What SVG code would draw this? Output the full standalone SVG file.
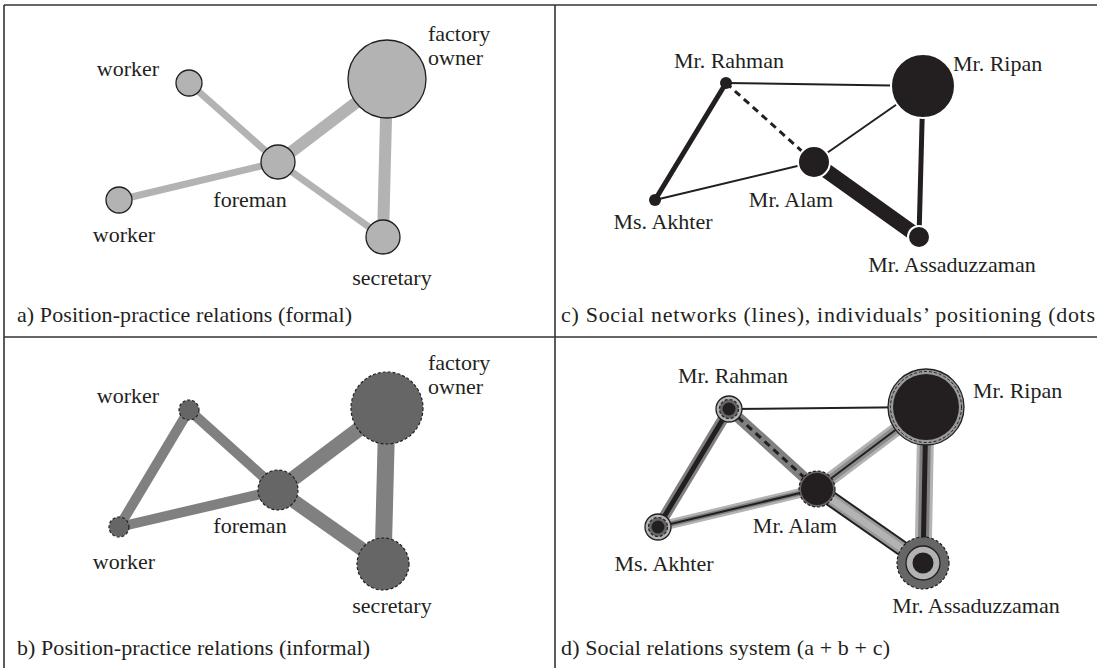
<svg xmlns="http://www.w3.org/2000/svg" width="1097" height="668" viewBox="0 0 1097 668">
  <defs>
    <style>
      .lbl { font-family: 'Liberation Serif', 'Times New Roman', 'DejaVu Serif', serif; font-size: 22px; fill: #231f20; }
      .mid { text-anchor: middle; }
      .frame { stroke: #333; stroke-width: 1.6; fill: none; }
      .e { fill: none; stroke-linecap: butt; }
      .fa { stroke: #b3b3b3; }
      .fb { stroke: #808080; }
      .fc { stroke: #231f20; }
      .na { fill: #b3b3b3; stroke: #231f20; stroke-width: 1.3; }
      .nb { fill: #666666; stroke: #231f20; stroke-width: 1.2; stroke-dasharray: 3 2; }
      .nc { fill: #231f20; stroke: #ffffff; stroke-width: 2; }
      .blk { fill: #231f20; }
      .dash { stroke-dasharray: 7 5; }
    </style>
  </defs>

  <rect width="1097" height="668" fill="#ffffff"/>

  <!-- panel frame -->
  <g id="frame">
    <line class="frame" x1="4" y1="5" x2="1097" y2="5"/>
    <line class="frame" x1="4" y1="5" x2="4" y2="668"/>
    <line class="frame" x1="555" y1="5" x2="555" y2="668"/>
    <line class="frame" x1="4" y1="337" x2="1097" y2="337"/>
  </g>

  <!-- connectors -->
  <g id="connectors">
    <!-- a) formal -->
    <line class="e fa" stroke-width="7" x1="189" y1="83" x2="278" y2="162"/>
    <line class="e fa" stroke-width="7" x1="119" y1="200" x2="278" y2="162"/>
    <line class="e fa" stroke-width="12" x1="278" y1="162" x2="387" y2="79"/>
    <line class="e fa" stroke-width="12" x1="387" y1="79" x2="383" y2="237"/>
    <line class="e fa" stroke-width="7" x1="278" y1="162" x2="383" y2="237"/>

    <!-- b) informal -->
    <line class="e fb" stroke-width="10" x1="189" y1="410" x2="119" y2="527"/>
    <line class="e fb" stroke-width="10" x1="189" y1="410" x2="278" y2="490"/>
    <line class="e fb" stroke-width="10" x1="119" y1="527" x2="278" y2="490"/>
    <line class="e fb" stroke-width="15" x1="278" y1="490" x2="387" y2="408"/>
    <line class="e fb" stroke-width="17" x1="387" y1="408" x2="383" y2="564"/>
    <line class="e fb" stroke-width="14" x1="278" y1="490" x2="383" y2="564"/>

    <!-- c) social networks -->
    <line class="e fc" stroke-width="2" x1="726" y1="83" x2="923" y2="86"/>
    <line class="e fc" stroke-width="5" x1="726" y1="83" x2="655" y2="200"/>
    <line class="e fc dash" stroke-width="3" x1="726" y1="83" x2="814" y2="162"/>
    <line class="e fc" stroke-width="2" x1="655" y1="200" x2="814" y2="162"/>
    <line class="e fc" stroke-width="2" x1="814" y1="162" x2="923" y2="86"/>
    <line class="e fc" stroke-width="15" x1="814" y1="162" x2="919" y2="237"/>
    <line class="e fc" stroke-width="5" x1="923" y1="86" x2="919" y2="237"/>

    <!-- d) combined system -->
    <line class="e fc" stroke-width="2" x1="729" y1="409" x2="926" y2="407"/>

    <line class="e fb" stroke-width="11" x1="729" y1="409" x2="658" y2="527"/>
    <line class="e fc" stroke-width="5" x1="729" y1="409" x2="658" y2="527"/>

    <line class="e fb" stroke-width="11" x1="729" y1="409" x2="817" y2="489"/>
    <line class="e fc dash" stroke-width="3" x1="729" y1="409" x2="817" y2="489"/>

    <line class="e fa" stroke-width="10" x1="658" y1="527" x2="817" y2="489"/>
    <line class="e fb" stroke-width="5" x1="658" y1="527" x2="817" y2="489"/>
    <line class="e fc" stroke-width="2" x1="658" y1="527" x2="817" y2="489"/>

    <line class="e fa" stroke-width="14" x1="817" y1="489" x2="926" y2="407"/>
    <line class="e" stroke="#8c8c8c" stroke-width="8" x1="817" y1="489" x2="926" y2="407"/>
    <line class="e fc" stroke-width="2" x1="817" y1="489" x2="926" y2="407"/>

    <line class="e fc" stroke-width="16" x1="817" y1="489" x2="923" y2="563"/>
    <line class="e" stroke="#999999" stroke-width="12" x1="817" y1="489" x2="923" y2="563"/>
    <line class="e fa" stroke-width="7" x1="817" y1="489" x2="923" y2="563"/>

    <line class="e fa" stroke-width="17" x1="926" y1="407" x2="923" y2="563"/>
    <line class="e fb" stroke-width="11" x1="926" y1="407" x2="923" y2="563"/>
    <line class="e fc" stroke-width="5" x1="926" y1="407" x2="923" y2="563"/>
  </g>

  <!-- a) Position-practice relations (formal) -->
  <g id="a-worker-top"><circle class="na" cx="189" cy="83" r="13"/><text class="lbl mid" x="128" y="76">worker</text></g>
  <g id="a-worker-bottom"><circle class="na" cx="119" cy="200" r="13"/><text class="lbl mid" x="124" y="242">worker</text></g>
  <g id="a-foreman"><circle class="na" cx="278" cy="162" r="17"/><text class="lbl mid" x="250" y="207">foreman</text></g>
  <g id="a-owner"><circle class="na" cx="387" cy="79" r="39"/><text class="lbl" x="428" y="41">factory</text><text class="lbl" x="428" y="65">owner</text></g>
  <g id="a-secretary"><circle class="na" cx="383" cy="237" r="17"/><text class="lbl mid" x="392" y="285">secretary</text></g>
  <text id="caption-a" class="lbl" x="17" y="322" textLength="335" lengthAdjust="spacing">a) Position-practice relations (formal)</text>

  <!-- b) Position-practice relations (informal) -->
  <g id="b-worker-top"><circle class="nb" cx="189" cy="410" r="10"/><text class="lbl mid" x="128" y="403">worker</text></g>
  <g id="b-worker-bottom"><circle class="nb" cx="119" cy="527" r="10"/><text class="lbl mid" x="124" y="569">worker</text></g>
  <g id="b-foreman"><circle class="nb" cx="278" cy="490" r="20"/><text class="lbl mid" x="250" y="533">foreman</text></g>
  <g id="b-owner"><circle class="nb" cx="387" cy="408" r="36"/><text class="lbl" x="428" y="370">factory</text><text class="lbl" x="428" y="394">owner</text></g>
  <g id="b-secretary"><circle class="nb" cx="383" cy="564" r="26"/><text class="lbl mid" x="392" y="613">secretary</text></g>
  <text id="caption-b" class="lbl" x="17" y="655" textLength="353" lengthAdjust="spacing">b) Position-practice relations (informal)</text>

  <!-- c) Social networks -->
  <g id="c-rahman"><circle class="blk" cx="726" cy="83" r="6"/><text class="lbl mid" x="729" y="68">Mr. Rahman</text></g>
  <g id="c-ripan"><circle class="nc" stroke-width="1.5" cx="923" cy="86" r="32"/><text class="lbl" x="953" y="71">Mr. Ripan</text></g>
  <g id="c-alam"><circle class="nc" cx="814" cy="162" r="16"/><text class="lbl mid" x="791" y="207">Mr. Alam</text></g>
  <g id="c-akhter"><circle class="blk" cx="655" cy="200" r="6"/><text class="lbl mid" x="663" y="229">Ms. Akhter</text></g>
  <g id="c-assaduzzaman"><circle class="nc" stroke-width="1.5" cx="919" cy="237" r="11"/><text class="lbl mid" x="952" y="272">Mr. Assaduzzaman</text></g>
  <text id="caption-c" class="lbl" x="561" y="322" textLength="534" lengthAdjust="spacing">c) Social networks (lines), individuals’ positioning (dots</text>

  <!-- d) Social relations system -->
  <g id="d-rahman">
    <circle class="na" stroke-width="1.5" cx="729" cy="409" r="13"/>
    <circle class="nb" stroke-width="1" cx="729" cy="409" r="9.5"/>
    <circle class="blk" cx="729" cy="409" r="6.5"/>
    <text class="lbl mid" x="733" y="383">Mr. Rahman</text>
  </g>
  <g id="d-ripan">
    <circle fill="#999999" stroke="#231f20" stroke-width="1.3" cx="926" cy="407" r="38"/>
    <circle fill="none" stroke="#231f20" stroke-width="1" stroke-dasharray="3 2" cx="926" cy="407" r="35.5"/>
    <circle class="blk" cx="926" cy="407" r="33"/>
    <text class="lbl" x="973" y="398">Mr. Ripan</text>
  </g>
  <g id="d-alam">
    <circle class="nb" cx="817" cy="489" r="18"/>
    <circle class="blk" cx="817" cy="489" r="16"/>
    <text class="lbl mid" x="795" y="533">Mr. Alam</text>
  </g>
  <g id="d-akhter">
    <circle class="na" stroke-width="1.5" cx="658" cy="527" r="13"/>
    <circle class="nb" stroke-width="1" cx="658" cy="527" r="9.5"/>
    <circle class="blk" cx="658" cy="527" r="6.5"/>
    <text class="lbl mid" x="664" y="571">Ms. Akhter</text>
  </g>
  <g id="d-assaduzzaman">
    <circle class="nb" cx="923" cy="563" r="26"/>
    <circle class="na" stroke-width="1.5" cx="923" cy="563" r="17"/>
    <circle class="blk" cx="923" cy="563" r="10.5"/>
    <text class="lbl mid" x="976" y="613">Mr. Assaduzzaman</text>
  </g>
  <text id="caption-d" class="lbl" x="561" y="655" textLength="329" lengthAdjust="spacing">d) Social relations system (a + b + c)</text>
</svg>
